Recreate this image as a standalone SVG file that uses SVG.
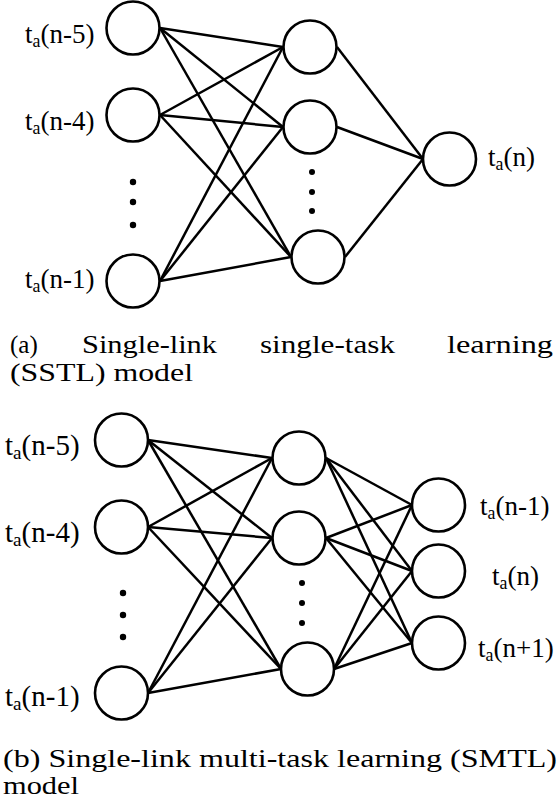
<svg xmlns="http://www.w3.org/2000/svg" width="560" height="800" viewBox="0 0 560 800">
<style>
.n{fill:#fff;stroke:#000;stroke-width:2.6}
.c line{stroke:#000;stroke-width:2.5}
.d{fill:#000}
.l{font-size:27px;fill:#000}
.lb{font-size:29px;fill:#000}
.s{font-size:0.66em}
.cap{font-size:25px;fill:#000}
</style>
<rect width="560" height="800" fill="#fff"/>
<g id="connectors-a" class="c">
<line x1="160" y1="28" x2="283" y2="47"/>
<line x1="160" y1="28" x2="283" y2="127"/>
<line x1="160" y1="28" x2="291" y2="257"/>
<line x1="160" y1="115" x2="283" y2="47"/>
<line x1="160" y1="115" x2="283" y2="127"/>
<line x1="160" y1="115" x2="291" y2="257"/>
<line x1="160" y1="281" x2="283" y2="47"/>
<line x1="160" y1="281" x2="283" y2="127"/>
<line x1="160" y1="281" x2="291" y2="257"/>
<line x1="337" y1="47" x2="423" y2="159"/>
<line x1="337" y1="127" x2="423" y2="159"/>
<line x1="345" y1="257" x2="423" y2="159"/>
</g>
<g font-family="Liberation Serif, Times New Roman, Times, serif">
<g id="a-in1"><circle class="n" cx="133" cy="28" r="26.5"/><text class="l" x="25" y="43">t<tspan class="s" dy="4">a</tspan><tspan dy="-4">(n-5)</tspan></text></g>
<g id="a-in2"><circle class="n" cx="133" cy="115" r="26.5"/><text class="l" x="25" y="130">t<tspan class="s" dy="4">a</tspan><tspan dy="-4">(n-4)</tspan></text></g>
<g id="a-in3"><circle class="n" cx="133" cy="281" r="26.5"/><text class="l" x="25" y="288">t<tspan class="s" dy="4">a</tspan><tspan dy="-4">(n-1)</tspan></text></g>
<g id="a-in-dots"><circle class="d" cx="133" cy="182" r="3.2"/><circle class="d" cx="133" cy="202" r="3.2"/><circle class="d" cx="133" cy="225" r="3.2"/></g>
<g id="a-h1"><circle class="n" cx="310" cy="47" r="26.5"/></g>
<g id="a-h2"><circle class="n" cx="310" cy="127" r="26.5"/></g>
<g id="a-h3"><circle class="n" cx="318" cy="257" r="26.5"/></g>
<g id="a-h-dots"><circle class="d" cx="312" cy="172" r="3"/><circle class="d" cx="312" cy="192" r="3"/><circle class="d" cx="312" cy="211" r="3"/></g>
<g id="a-out"><circle class="n" cx="449.5" cy="159" r="26.5"/><text class="l" x="488" y="166">t<tspan class="s" dy="4">a</tspan><tspan dy="-4">(n)</tspan></text></g>
<g id="caption-a">
<text class="cap" x="10" y="353">(a)</text>
<text class="cap" x="82" y="353" textLength="135" lengthAdjust="spacingAndGlyphs">Single-link</text>
<text class="cap" x="260" y="353" textLength="135" lengthAdjust="spacingAndGlyphs">single-task</text>
<text class="cap" x="447" y="353" textLength="106" lengthAdjust="spacingAndGlyphs">learning</text>
<text class="cap" x="10" y="381" textLength="183" lengthAdjust="spacingAndGlyphs">(SSTL) model</text>
</g>
</g>
<g id="connectors-b" class="c">
<line x1="148" y1="440" x2="272" y2="458"/>
<line x1="148" y1="440" x2="272" y2="538"/>
<line x1="148" y1="440" x2="281" y2="669"/>
<line x1="148" y1="527" x2="272" y2="458"/>
<line x1="148" y1="527" x2="272" y2="538"/>
<line x1="148" y1="527" x2="281" y2="669"/>
<line x1="148" y1="693" x2="272" y2="458"/>
<line x1="148" y1="693" x2="272" y2="538"/>
<line x1="148" y1="693" x2="281" y2="669"/>
<line x1="326" y1="458" x2="412" y2="505"/>
<line x1="326" y1="458" x2="412" y2="571"/>
<line x1="326" y1="458" x2="412" y2="643"/>
<line x1="326" y1="538" x2="412" y2="505"/>
<line x1="326" y1="538" x2="412" y2="571"/>
<line x1="326" y1="538" x2="412" y2="643"/>
<line x1="334" y1="669" x2="412" y2="505"/>
<line x1="334" y1="669" x2="412" y2="571"/>
<line x1="334" y1="669" x2="412" y2="643"/>
</g>
<g font-family="Liberation Serif, Times New Roman, Times, serif">
<g id="b-in1"><circle class="n" cx="121.5" cy="440" r="26.5"/><text class="lb" x="5" y="455">t<tspan class="s" dy="4">a</tspan><tspan dy="-4">(n-5)</tspan></text></g>
<g id="b-in2"><circle class="n" cx="121.5" cy="527" r="26.5"/><text class="lb" x="5" y="542">t<tspan class="s" dy="4">a</tspan><tspan dy="-4">(n-4)</tspan></text></g>
<g id="b-in3"><circle class="n" cx="121.5" cy="693" r="26.5"/><text class="lb" x="5" y="706">t<tspan class="s" dy="4">a</tspan><tspan dy="-4">(n-1)</tspan></text></g>
<g id="b-in-dots"><circle class="d" cx="123" cy="593" r="3.2"/><circle class="d" cx="123" cy="615" r="3.2"/><circle class="d" cx="123" cy="637" r="3.2"/></g>
<g id="b-h1"><circle class="n" cx="299" cy="458" r="26.5"/></g>
<g id="b-h2"><circle class="n" cx="299" cy="538" r="26.5"/></g>
<g id="b-h3"><circle class="n" cx="307.5" cy="669" r="26.5"/></g>
<g id="b-h-dots"><circle class="d" cx="302" cy="583" r="3"/><circle class="d" cx="302" cy="603" r="3"/><circle class="d" cx="302" cy="623" r="3"/></g>
<g id="b-o1"><circle class="n" cx="438.5" cy="505" r="26.5"/><text class="l" x="480" y="515">t<tspan class="s" dy="4">a</tspan><tspan dy="-4">(n-1)</tspan></text></g>
<g id="b-o2"><circle class="n" cx="438.5" cy="571" r="26.5"/><text class="l" x="492" y="585">t<tspan class="s" dy="4">a</tspan><tspan dy="-4">(n)</tspan></text></g>
<g id="b-o3"><circle class="n" cx="438.5" cy="643" r="26.5"/><text class="l" x="478" y="657">t<tspan class="s" dy="4">a</tspan><tspan dy="-4">(n+1)</tspan></text></g>
<g id="caption-b">
<text class="cap" x="3" y="767" textLength="554" lengthAdjust="spacingAndGlyphs">(b) Single-link multi-task learning (SMTL)</text>
<text class="cap" x="3" y="794" textLength="76" lengthAdjust="spacingAndGlyphs">model</text>
</g>
</g>
</svg>
